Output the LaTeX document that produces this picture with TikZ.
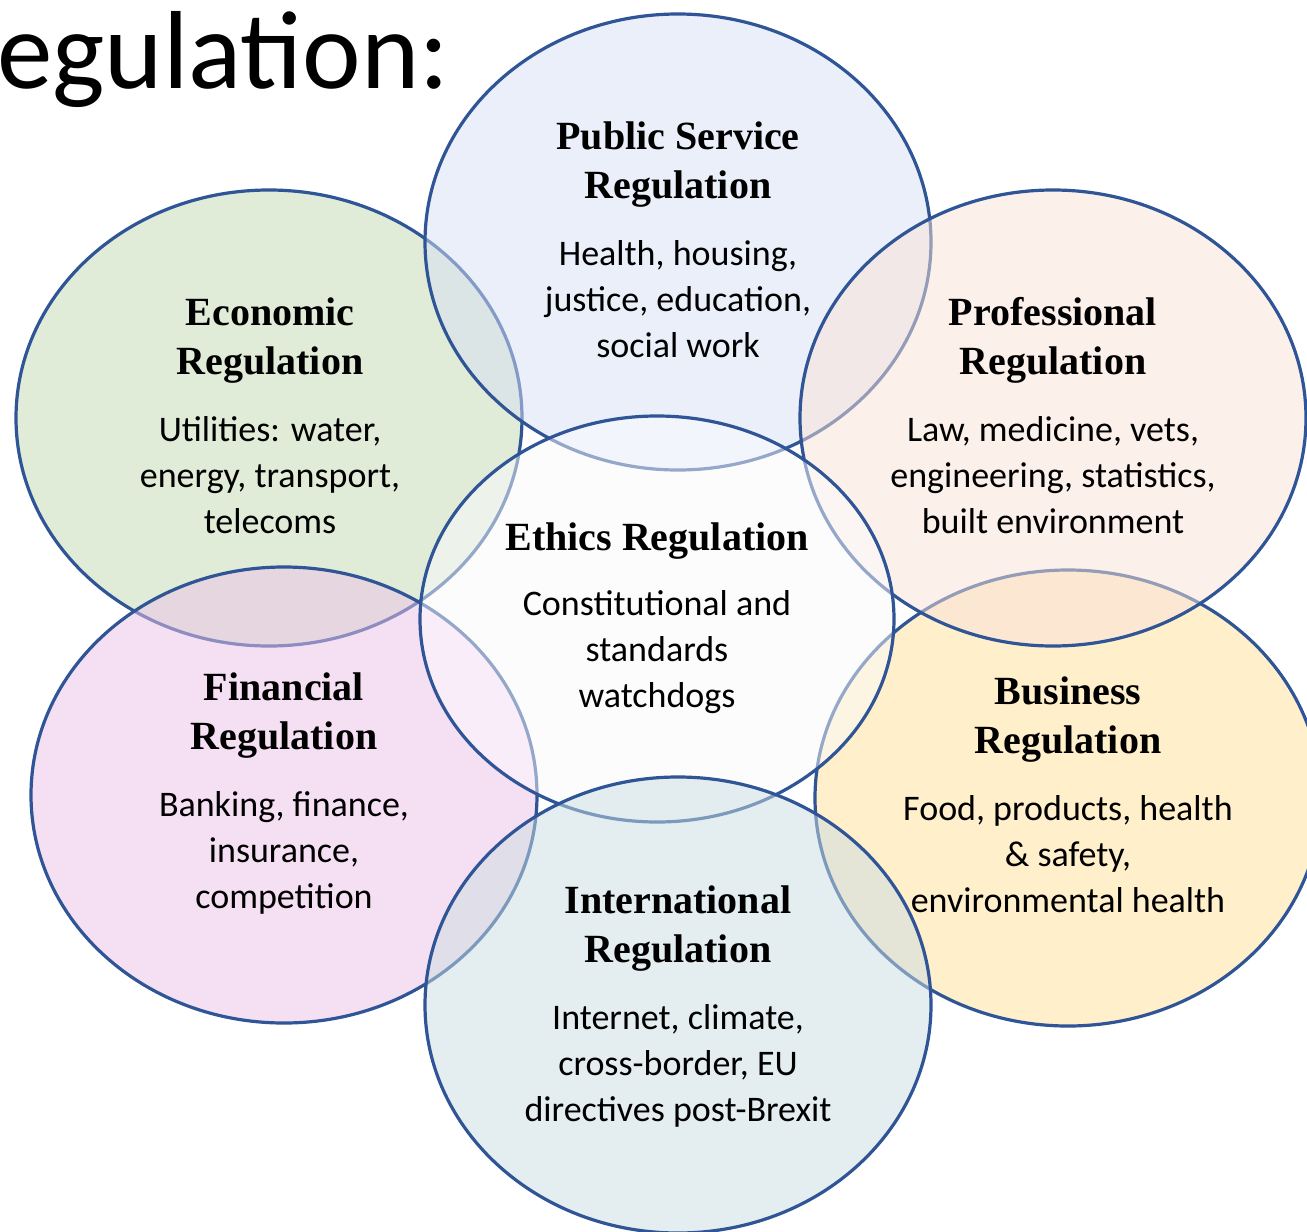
\documentclass[tikz,border=0pt]{standalone}
\usepackage{fontspec}
\setmainfont{Carlito}
\newfontfamily\headfont{Liberation Serif}
\usetikzlibrary{shapes.geometric}
\definecolor{rim}{HTML}{2F5597}
\definecolor{pubfill}{HTML}{D7E1F5}
\definecolor{ecofill}{HTML}{C3D9B3}
\definecolor{profill}{HTML}{FBE3D9}
\definecolor{ethfill}{HTML}{FBFBFD}
\definecolor{finfill}{HTML}{EDC3E9}
\definecolor{busfill}{HTML}{FFE199}
\definecolor{intfill}{HTML}{CBDDE1}
\begin{document}
\begin{tikzpicture}[x=0.5pt,y=-0.5pt,
    circ/.style={ellipse,draw=rim,line width=1.6pt,fill opacity=0.5,inner sep=0pt,
      minimum width=253pt,minimum height=228pt},
    head/.style={align=center,inner sep=0pt,font=\headfont\bfseries\fontsize{20}{24.5}\selectfont},
    body/.style={align=center,inner sep=0pt,font=\fontsize{18}{23}\selectfont}]
  \useasboundingbox[fill=white] (0,0) rectangle (1307,1232);
  % the seven fields, back to front
  \node[circ,fill=ecofill] (eco) at (269,418) {};
  \node[circ,fill=pubfill] (pub) at (678,242) {};
  \node[circ,fill=busfill] (bus) at (1068,798) {};
  \node[circ,fill=profill] (pro) at (1053,418) {};
  \node[circ,fill=finfill] (fin) at (284,795) {};
  \node[circ,fill=ethfill,minimum width=237pt,minimum height=203pt] (eth) at (657,619) {};
  \node[circ,fill=intfill] (int) at (678,1005) {};
  % title
  \node[anchor=base west,inner sep=0pt,font=\fontsize{55.5}{60}\selectfont] (title) at (-3,88) {egulation:};
  % labels
  \node[head] (pubH) at (678,164) {\strut Public Service\\Regulation\strut};
  \node[body] (pubB) at (678,302) {\strut Health, housing,\\justice, education,\\social work\strut};
  \node[head] (ecoH) at (270,340) {\strut Economic\\Regulation\strut};
  \node[body] (ecoB) at (270,478) {\strut Utilities: water,\\energy, transport,\\telecoms\strut};
  \node[head] (proH) at (1053,340) {\strut Professional\\Regulation\strut};
  \node[body] (proB) at (1053,478) {\strut Law, medicine, vets,\\engineering, statistics,\\built environment\strut};
  \node[head] (ethH) at (657,541) {\strut Ethics Regulation\strut};
  \node[body] (ethB) at (657,652) {\strut Constitutional and\\standards\\watchdogs\strut};
  \node[head] (finH) at (284,715) {\strut Financial\\Regulation\strut};
  \node[body] (finB) at (284,853) {\strut Banking, finance,\\insurance,\\competition\strut};
  \node[head] (busH) at (1068,719) {\strut Business\\Regulation\strut};
  \node[body] (busB) at (1068,857) {\strut Food, products, health\\\& safety,\\environmental health\strut};
  \node[head] (intH) at (678,928) {\strut International\\Regulation\strut};
  \node[body] (intB) at (678,1066) {\strut Internet, climate,\\cross-border, EU\\directives post-Brexit\strut};
\end{tikzpicture}
\end{document}
